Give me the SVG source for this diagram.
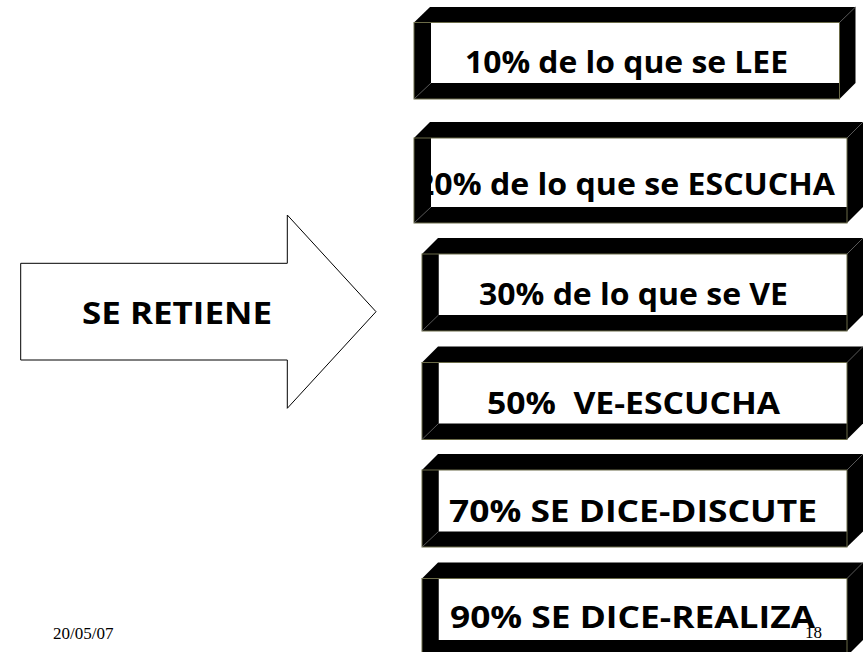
<svg xmlns="http://www.w3.org/2000/svg" width="863" height="652" viewBox="0 0 863 652">
<defs>
<style>
.shell{fill:#000;}
.inner{fill:#fff;}
.band{fill:#000;}
.front{fill:none;stroke:#6b6b48;stroke-width:1;}
.edge{stroke:#6e6e6e;stroke-width:0.8;fill:none;}
.lbl{font-family:"Open Sans","DejaVu Sans",sans-serif;font-weight:bold;font-size:30px;fill:#000;}
.foot{font-family:"Liberation Serif","Times New Roman",serif;font-size:17px;fill:#000;}
.arrow{fill:#fff;stroke:#000;stroke-width:1;}
</style>
</defs>
<rect width="863" height="652" fill="#fff"/>

<g id="connectors"></g>

<g id="node-se-retiene">
<polygon class="arrow" points="20.7,263.3 287.3,263.3 287.3,215 376,311.7 287.3,408.3 287.3,360 20.7,360"/>
<text class="lbl" x="82" y="324" textLength="190" lengthAdjust="spacingAndGlyphs">SE RETIENE</text>
</g>

<g id="node-10">
<polygon class="shell" points="414,22.5 430,7 855.5,7 855.5,83 839.5,99 414,99"/>
<rect class="inner" x="431" y="22.5" width="408.5" height="60.5"/>
<text class="lbl" x="465" y="73" textLength="323" lengthAdjust="spacingAndGlyphs">10% de lo que se LEE</text>
<rect class="band" x="414" y="22.5" width="17" height="76.5"/>
<rect class="front" x="414" y="22.5" width="425.5" height="76.5"/>
<line class="edge" x1="414" y1="99" x2="431" y2="83"/>
<line class="edge" x1="839.5" y1="22.5" x2="855.5" y2="7"/>
</g>

<g id="node-20">
<polygon class="shell" points="414,138 430,122 863,122 863,207 847,223 414,223"/>
<rect class="inner" x="431" y="138" width="416" height="69"/>
<text class="lbl" x="416" y="195" textLength="419" lengthAdjust="spacingAndGlyphs">20% de lo que se ESCUCHA</text>
<rect class="band" x="414" y="138" width="17" height="85"/>
<rect class="front" x="414" y="138" width="433" height="85"/>
<line class="edge" x1="414" y1="223" x2="431" y2="207"/>
<line class="edge" x1="847" y1="138" x2="863" y2="122"/>
</g>

<g id="node-30">
<polygon class="shell" points="422,254 438,238 863,238 863,315 847,331 422,331"/>
<rect class="inner" x="438.5" y="254" width="408.5" height="61"/>
<text class="lbl" x="479" y="305" textLength="309" lengthAdjust="spacingAndGlyphs">30% de lo que se VE</text>
<rect class="band" x="422" y="254" width="16.5" height="77"/>
<rect class="front" x="422" y="254" width="425" height="77"/>
<line class="edge" x1="422" y1="331" x2="438.5" y2="315"/>
<line class="edge" x1="847" y1="254" x2="863" y2="238"/>
</g>

<g id="node-50">
<polygon class="shell" points="422,362.5 438,346.5 863,346.5 863,423.5 847,439.5 422,439.5"/>
<rect class="inner" x="438.5" y="362.5" width="408.5" height="61"/>
<text class="lbl" x="487" y="414" textLength="293" lengthAdjust="spacingAndGlyphs" xml:space="preserve">50%  VE-ESCUCHA</text>
<rect class="band" x="422" y="362.5" width="16.5" height="77"/>
<rect class="front" x="422" y="362.5" width="425" height="77"/>
<line class="edge" x1="422" y1="439.5" x2="438.5" y2="423.5"/>
<line class="edge" x1="847" y1="362.5" x2="863" y2="346.5"/>
</g>

<g id="node-70">
<polygon class="shell" points="422,470 438,454 863,454 863,531.5 847,547 422,547"/>
<rect class="inner" x="438.5" y="470" width="408.5" height="61.5"/>
<text class="lbl" x="449" y="521.5" textLength="368" lengthAdjust="spacingAndGlyphs">70% SE DICE-DISCUTE</text>
<rect class="band" x="422" y="470" width="16.5" height="77"/>
<rect class="front" x="422" y="470" width="425" height="77"/>
<line class="edge" x1="422" y1="547" x2="438.5" y2="531.5"/>
<line class="edge" x1="847" y1="470" x2="863" y2="454"/>
</g>

<g id="node-90">
<polygon class="shell" points="422,578.5 438,562.5 863,562.5 863,640 847,656 422,656"/>
<rect class="inner" x="438.5" y="578.5" width="408.5" height="61.5"/>
<text class="lbl" x="450" y="628" textLength="365" lengthAdjust="spacingAndGlyphs">90% SE DICE-REALIZA</text>
<rect class="band" x="422" y="578.5" width="16.5" height="77.5"/>
<rect class="front" x="422" y="578.5" width="425" height="77.5"/>
<line class="edge" x1="847" y1="578.5" x2="863" y2="562.5"/>
</g>

<g id="footer">
<text class="foot" x="53" y="639">20/05/07</text>
<text class="foot" x="805" y="638">18</text>
</g>
</svg>
